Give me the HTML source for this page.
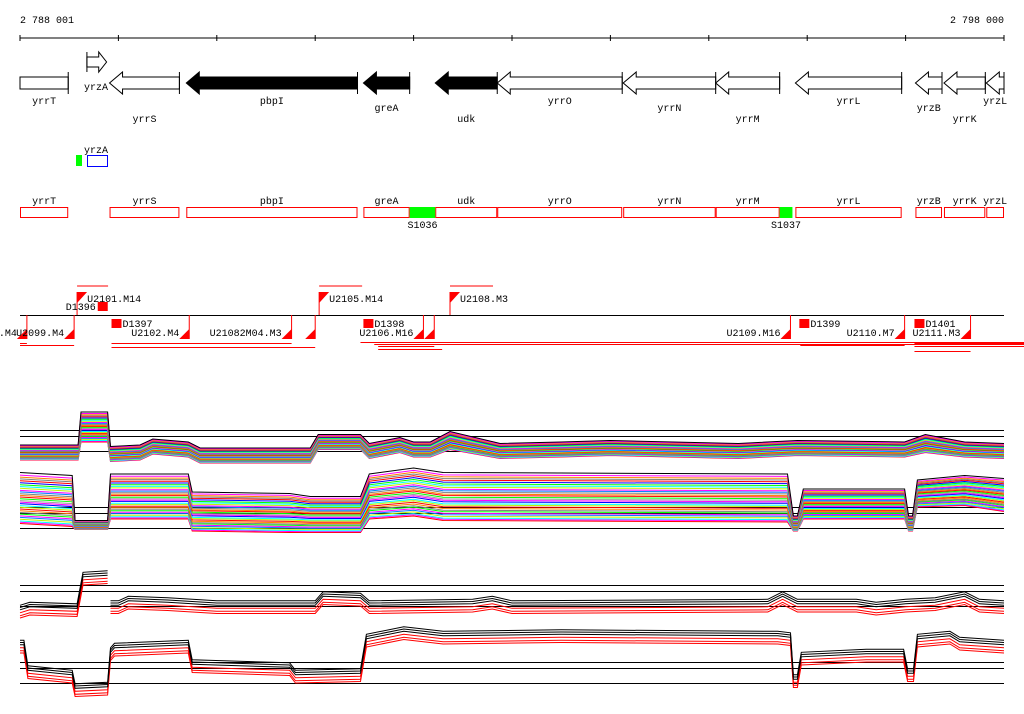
<!DOCTYPE html>
<html><head><meta charset="utf-8">
<style>
html,body{margin:0;padding:0;background:#fff;}
svg{display:block;}
text{font-family:"Liberation Mono","DejaVu Sans Mono",monospace;font-size:10px;fill:#000;}
</style></head>
<body>
<svg id="chart" width="1024" height="714" viewBox="0 0 1024 714" xmlns="http://www.w3.org/2000/svg">
<g id="axis"></g>
<g id="genes"></g>
<g id="extra"></g>
<g id="boxes"></g>
<g id="flags"></g>
<g id="prof"></g>
</svg>
<script>
// ---- data (positions in kb from 2 788 001) ----
const tickKb = [0,1,2,3,4,5,6,7,8,9,10];
const axisLabels = ["2 788 001","2 798 000"];
const geneNames = ["yrrT","yrrS","pbpI","greA","udk","yrrO","yrrN","yrrM","yrrL","yrzB","yrrK","yrzL"];
const geneStart = [0,0.91,1.69,3.49,4.22,4.85,6.13,7.07,7.88,9.10,9.39,9.82];
const geneEnd   = [0.49,1.62,3.43,3.96,4.85,6.12,7.07,7.72,8.96,9.37,9.81,10];
const geneFill  = [0,0,1,1,1,0,0,0,0,0,0,0];
const geneArrow = [0,1,1,1,1,1,1,1,1,1,1,1];
const geneLabelLevel = [0,2,0,1,2,0,1,2,0,1,2,0];
const siteNames = ["S1036","S1037"];
const siteStart = [3.96,7.72];
const siteEnd = [4.22,7.85];
const topFlagKb = [0.58,3.04,4.37];
const topFlagLabels = ["U2101.M14","U2105.M14","U2108.M3"];
const botFlagKb = [0.07,0.55,1.72,2.76,3.00,4.10,4.21,7.83,8.99,9.66];
const botFlagLabels = [".M4","U2099.M4","U2102.M4","U21082M04.M3","","U2106.M16","","U2109.M16","U2110.M7","U2111.M3"];
const boxKb = [0.79,0.93,3.49,7.92,9.09];
const boxLabels = ["D1396","D1397","D1398","D1399","D1401"];
// profile track A (multi-colour)
const posA  = [0,0.59,0.62,0.89,0.92,1.22,1.35,1.71,1.83,2.95,3.03,3.46,3.55,3.86,4.0,4.17,4.37,4.88,5.5,6.0,7.3,7.9,8.99,9.2,9.6,10];
const meanA = [-0.1,-0.1,1.6,1.6,-0.2,-0.1,0.3,0.1,-0.3,-0.3,0.6,0.6,0.0,0.4,0.1,0.1,0.7,0.0,0.1,0.2,0.0,0.2,0.1,0.5,0.1,0.0];
const sprA  = [0.5,0.5,1.0,1.0,0.5,0.5,0.5,0.5,0.5,0.5,0.5,0.5,0.5,0.5,0.5,0.5,0.6,0.5,0.5,0.5,0.5,0.5,0.5,0.6,0.5,0.5];
// profile track B
const posB  = [0,0.53,0.56,0.89,0.92,1.71,1.75,2.74,2.95,3.46,3.55,4.0,4.3,7.8,7.86,7.9,7.96,8.99,9.03,9.07,9.12,9.6,10];
const meanB = [2.0,1.8,0.2,0.2,2.1,2.1,1.1,1.0,0.9,0.9,2.1,2.4,2.1,2.0,0.3,0.3,1.6,1.6,0.3,0.3,2.3,2.5,2.2];
const sprB  = [1.7,1.7,0.3,0.3,1.5,1.5,1.3,1.3,1.2,1.2,1.5,1.6,1.6,1.6,0.5,0.5,1.0,1.0,0.5,0.5,0.9,1.0,1.1];
// profile track C (black/red)
const posC  = [0,0.1,0.58,0.64,0.89,0.905,0.92,1.0,1.1,1.5,2.0,3.0,3.08,3.46,3.55,4.6,4.8,5.0,7.6,7.75,7.9,8.5,8.7,9.0,9.3,9.6,9.75,10];
const meanC = [-0.3,-0.1,-0.2,1.9,2.0,NaN,0.0,0.0,0.3,0.2,0.0,0.0,0.6,0.5,0.0,0.1,0.3,0.0,0.1,0.6,0.1,0.1,-0.1,0.1,0.2,0.6,0.1,0.0];
// profile track D
const posD  = [0,0.04,0.08,0.53,0.56,0.89,0.92,0.96,1.71,1.75,2.74,2.8,3.46,3.52,3.9,4.3,5.5,7.7,7.83,7.86,7.9,7.94,8.6,8.98,9.02,9.08,9.12,9.45,9.55,10];
const meanD = [2.5,2.5,0.8,0.5,-0.4,-0.3,2.0,2.3,2.5,1.2,1.0,0.5,0.6,2.9,3.4,3.1,3.2,3.1,3.0,0.2,0.2,1.7,1.9,1.9,0.6,0.6,2.9,3.1,2.7,2.5];
const offCD = [0.35,0.2,0.05,-0.15,-0.35,-0.5];
const colCD = ["#000","#000","#000","#f00","#f00","#f00"];
const offAB = [1.0,0.9,0.82,0.75,0.68,0.6,0.52,0.45,0.38,0.3,0.24,0.17,0.1,0.04,-0.03,-0.1,-0.16,-0.22,-0.3,-0.36,-0.43,-0.5,-0.57,-0.63,-0.7,-0.76,-0.83,-0.9,-0.95,-1.0];
const colAB = ["#000","#f0f","#ff8000","#808080","#f00","#00f","#0f0","#0ff","#c0f000","#f0f","#0080ff","#808080","#ff8000","#f00","#0f0","#a0a0a0","#f0f","#00f","#0ff","#c0f000","#f00","#ff8000","#808080","#0f0","#f0f","#0080ff","#c0f000","#0ff","#f0f","#f00"];

// ---- axes ----
const X0 = 20, X1 = 1004;
function xs(kb){ return X0 + kb*(X1-X0)/10; }
const NS = "http://www.w3.org/2000/svg";
function mk(tag, attrs, parent){
  const e = document.createElementNS(NS, tag);
  for (const k in attrs) e.setAttribute(k, attrs[k]);
  parent.appendChild(e); return e;
}
const gAxis = document.getElementById('axis');
let e = mk('line',{x1:X0,y1:38,x2:X1,y2:38,stroke:'#000','stroke-width':1},gAxis);


tickKb.forEach(k=>{
  const t = mk('line',{x1:xs(k),y1:35,x2:xs(k),y2:41,stroke:'#000'},gAxis);
  
  
});
e = mk('text',{x:20,y:23},gAxis); e.textContent = axisLabels[0];


e = mk('text',{x:1004,y:23,'text-anchor':'end'},gAxis); e.textContent = axisLabels[1];



// ---- genes ----
const gG = document.getElementById('genes');
const lvlY = [104,111,122];
geneNames.forEach((n,i)=>{
  const a = xs(geneStart[i]), b = xs(geneEnd[i]);
  let d;
  if (!geneArrow[i]) d = `M${a},77 L${b},77 L${b},89 L${a},89 Z`;
  else { const h = Math.min(13,b-a); d = `M${b},77 L${a+h},77 L${a+h},72 L${a},83 L${a+h},94 L${a+h},89 L${b},89 Z`; }
  const p = mk('path',{d:d,fill:geneFill[i]?'#000':'#fff',stroke:'#000','stroke-width':1},gG);
  
  
  const l = mk('line',{x1:b,y1:72,x2:b,y2:94,stroke:'#000'},gG);
  
  
  const t = mk('text',{x:(a+b)/2,y:lvlY[geneLabelLevel[i]],'text-anchor':'middle'},gG); t.textContent = n;
  
  
});
// yrzA forward arrow
e = mk('path',{d:`M${xs(0.68)},57 L${xs(0.80)},57 L${xs(0.80)},52 L${xs(0.88)},62 L${xs(0.80)},72 L${xs(0.80)},67 L${xs(0.68)},67 Z`,fill:'#fff',stroke:'#000'},gG);


e = mk('line',{x1:xs(0.68),y1:52,x2:xs(0.68),y2:72,stroke:'#000'},gG);


e = mk('text',{x:96,y:90,'text-anchor':'middle'},gG); e.textContent='yrzA';



// ---- extra feature track ----
const gE = document.getElementById('extra');
e = mk('rect',{x:76,y:155,width:6,height:11,fill:'#0f0'},gE);


e = mk('rect',{x:87.5,y:155.5,width:20,height:11,fill:'none',stroke:'#00f'},gE);


e = mk('text',{x:96,y:153,'text-anchor':'middle'},gE); e.textContent='yrzA';



// ---- gene boxes ----
const gB = document.getElementById('boxes');
geneNames.forEach((n,i)=>{
  const a = xs(geneStart[i]), b = xs(geneEnd[i]);
  const r = mk('rect',{x:a+0.5,y:207.5,width:b-a-1,height:10,fill:'none',stroke:'#f00'},gB);
  
  
  const t = mk('text',{x:(a+b)/2,y:204,'text-anchor':'middle'},gB); t.textContent = n;
  
  
});
siteNames.forEach((n,i)=>{
  const a = xs(siteStart[i]), b = xs(siteEnd[i]);
  const r = mk('rect',{x:a,y:207,width:b-a,height:11,fill:'#0f0'},gB);
  
  
  const t = mk('text',{x:(a+b)/2,y:228,'text-anchor':'middle'},gB); t.textContent = n;
  
  
});

// ---- flags ----
const gF = document.getElementById('flags');
e = mk('line',{x1:20,y1:315.5,x2:1004,y2:315.5,stroke:'#000'},gF);


topFlagKb.forEach((k,i)=>{
  const x = xs(k);
  const l = mk('line',{x1:x,y1:292,x2:x,y2:315,stroke:'#f00'},gF);
  
  
  const p = mk('path',{d:`M${x},292 L${x+10},292 L${x},303 Z`,fill:'#f00'},gF);
  
  
  const t = mk('text',{x:x+10,y:302},gF); t.textContent = topFlagLabels[i];
  
  
  const r = mk('line',{x1:x,y1:286,x2:x+(i==0?31:43),y2:286,stroke:'#f00'},gF);
  
  
});
botFlagKb.forEach((k,i)=>{
  const x = xs(k);
  const l = mk('line',{x1:x,y1:315,x2:x,y2:339,stroke:'#f00'},gF);
  
  
  const p = mk('path',{d:`M${x-10},339 L${x},339 L${x},329 Z`,fill:'#f00'},gF);
  
  
  const t = mk('text',{x:x-10,y:336,'text-anchor':'end'},gF); t.textContent = botFlagLabels[i];
  
  
});
boxKb.forEach((k,i)=>{
  const x = xs(k);
  const r = mk('rect',{x:x,y:i==0?302:319,width:10,height:9,fill:'#f00'},gF);
  
  
  const t = mk('text',{x:i==0?x-32:x+11,y:i==0?310:327},gF); t.textContent = boxLabels[i];
  
  
});
// red range lines beneath
const rangeStart = [0,0,0.93,0.93,3.46,3.60,3.64,3.64,7.93,9.09,9.09,9.09];
const rangeEnd   = [0.07,0.55,2.76,3.00,10.3,10.3,4.21,4.29,8.99,10.3,10.3,9.66];
const rangeRow   = [343,345,343,347,342,344,346,349,345,343,346,351];
rangeStart.forEach((s,i)=>{
  const l = mk('line',{x1:xs(s),y1:rangeRow[i]+0.5,x2:Math.min(1024,xs(rangeEnd[i])),y2:rangeRow[i]+0.5,stroke:'#f00'},gF);
  
  
});

// ---- profiles ----
const gP = document.getElementById('prof');
const refVals = [0,1.0,1.4];
function track(base, name){
  refVals.forEach(v=>{
    const l = mk('line',{x1:20,y1:base - v*15 + 0.5,x2:1004,y2:base - v*15 + 0.5,stroke:'#000'},gP);
    
    
  });
}
function pathFrom(pos, vals, base){
  let d = '', pen = false;
  pos.forEach((p,i)=>{
    const v = vals[i];
    if (isNaN(v)) { pen = false; return; }
    d += (pen?'L':'M') + xs(p).toFixed(1) + ',' + (base - v*15).toFixed(1) + ' ';
    pen = true;
  });
  return d;
}
function drawSeries(pos, mean, spr, offs, cols, base, name){
  // draw from bottom of list to top so first (black) on top
  for (let s = offs.length-1; s >= 0; s--){
    const vals = mean.map((m,i)=> m + offs[s]*(spr?spr[i]:1));
    const p = mk('path',{d:pathFrom(pos, vals, base),fill:'none',stroke:cols[s],'stroke-width':1},gP);
    
    
  }
}
track(451,'track-a'); drawSeries(posA, meanA, sprA, offAB, colAB, 451, 'track-a');
track(528,'track-b'); drawSeries(posB, meanB, sprB, offAB, colAB, 528, 'track-b');
track(606,'track-c'); drawSeries(posC, meanC, null, offCD, colCD, 606, 'track-c');
track(683,'track-d'); drawSeries(posD, meanD, null, offCD, colCD, 683, 'track-d');
</script>
</body></html>
